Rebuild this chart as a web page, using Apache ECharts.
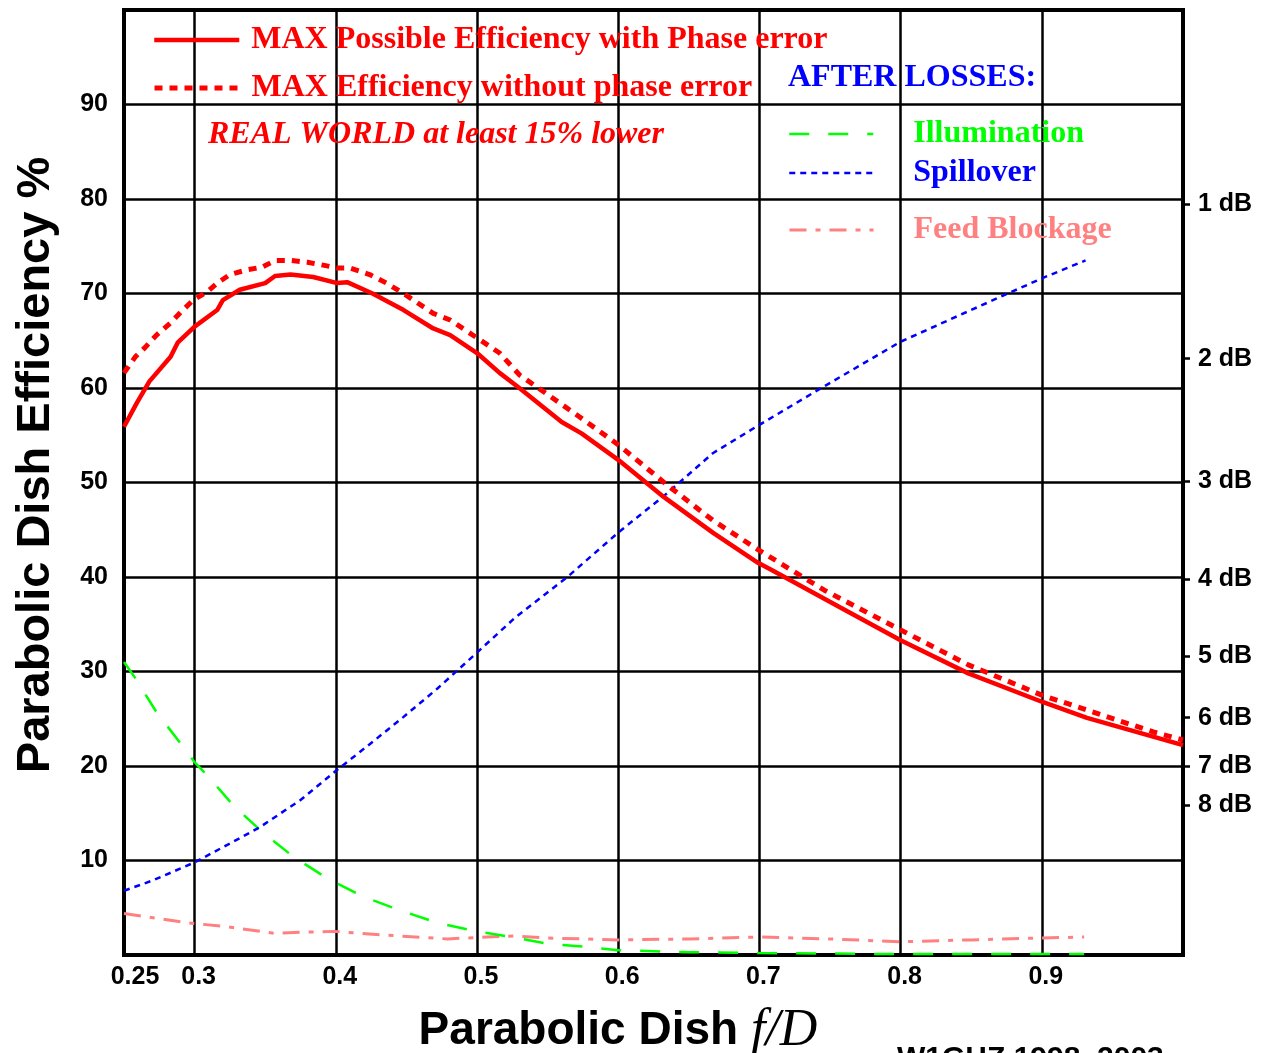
<!DOCTYPE html>
<html><head><meta charset="utf-8">
<script src="https://cdn.jsdelivr.net/npm/echarts@6/dist/echarts.min.js"></script>
<style>html,body{margin:0;padding:0;background:#fff}#c{width:1265px;height:1053px}</style>
</head><body><div id="c"></div>
<script>
// ---- data ----
const phaseErrFD  = [0.25,0.259,0.268,0.283,0.288,0.300,0.316,0.320,0.332,0.350,0.357,0.368,0.384,0.401,0.408,0.426,0.448,0.469,0.481,0.500,0.516,0.530,0.560,0.574,0.600,0.632,0.667,0.699,0.708,0.757,0.800,0.848,0.900,0.932,1.000];
const phaseErrEff = [55.9,58.4,60.7,63.3,64.8,66.5,68.25,69.3,70.4,71.1,71.85,72.0,71.75,71.1,71.2,70.0,68.25,66.3,65.6,63.7,61.6,60.0,56.4,55.2,52.4,48.5,44.7,41.5,40.8,36.8,33.3,29.8,26.8,25.1,22.2];

const noPhaseFD  = [0.25,0.258,0.265,0.273,0.283,0.290,0.299,0.309,0.316,0.325,0.337,0.348,0.357,0.368,0.380,0.391,0.401,0.410,0.424,0.436,0.450,0.469,0.481,0.500,0.516,0.530,0.573,0.600,0.635,0.667,0.699,0.746,0.800,0.848,0.900,0.979,1.000];
const noPhaseEff = [61.6,63.3,64.3,65.6,66.9,68.0,69.3,70.2,71.1,72.0,72.5,72.8,73.5,73.5,73.3,73.0,72.7,72.7,72.0,71.1,69.8,67.9,67.2,65.3,63.7,61.4,56.9,54.0,49.7,46.0,42.9,38.6,34.4,30.7,27.5,23.6,22.75];

const illumFD  = [0.25,0.258,0.273,0.290,0.300,0.309,0.327,0.348,0.370,0.394,0.419,0.446,0.472,0.500,0.528,0.550,0.578,0.600,0.650,0.700,0.750,0.800,0.850,0.930];
const illumEff = [31.0,29.3,25.7,22.4,20.4,19.0,15.9,13.0,10.4,8.1,6.2,4.7,3.4,2.5,1.8,1.2,0.85,0.5,0.3,0.2,0.15,0.1,0.1,0.1];

const spillFD  = [0.25,0.2705,0.300,0.325,0.346,0.375,0.401,0.424,0.448,0.472,0.500,0.527,0.564,0.600,0.635,0.667,0.700,0.745,0.800,0.873,0.900,0.931];
const spillEff = [6.8,7.9,9.8,11.8,13.5,16.4,19.6,22.3,25.2,28.2,32.0,35.7,40.0,44.7,48.9,53.1,56.1,60.1,64.9,69.8,71.6,73.5];

const blockFD  = [0.25,0.295,0.323,0.356,0.375,0.398,0.436,0.479,0.507,0.526,0.550,0.600,0.650,0.700,0.750,0.800,0.850,0.900,0.930];
const blockEff = [4.4,3.4,3.0,2.3,2.4,2.5,2.1,1.7,1.9,2.0,1.8,1.6,1.7,1.9,1.7,1.4,1.6,1.8,1.9];

const xLabelValues = [0.25,0.3,0.4,0.5,0.6,0.7,0.8,0.9];
const xGridValues  = [0.3,0.4,0.5,0.6,0.7,0.8,0.9];
const dbTicks = [1,2,3,4,5,6,7,8];

const names = {
  pe: 'MAX Possible Efficiency with Phase error',
  np: 'MAX Efficiency without phase error',
  il: 'Illumination',
  sp: 'Spillover',
  fb: 'Feed Blockage'
};
const pairs = (xs, ys) => xs.map((x, i) => [x, ys[i]]);
const dbToEff = db => 100 * Math.pow(10, -db / 10);

const SANS = 'Liberation Sans', SERIF = 'Liberation Serif';
const RED = '#ff0000', GREEN = '#00ff00', BLUE = '#0000ff', PINK = '#ff8080';

function legendAt(name, left, centerY, w, color, textPad) {
  return {
    data: [{ name: name, textStyle: { color: color } }],
    orient: 'vertical', left: left, top: centerY - 18, padding: 0,
    itemWidth: w, itemHeight: 14, selectedMode: false,
    itemStyle: { color: 'rgba(0,0,0,0)', borderWidth: 0, opacity: 0 },
    lineStyle: { width: 'inherit', type: 'inherit' },
    textStyle: { fontFamily: SERIF, fontWeight: 'bold', fontSize: 32, lineHeight: 36,
                 padding: [0, 0, 0, textPad] }
  };
}

const tickFont = { color: '#000', fontFamily: SANS, fontWeight: 'bold', fontSize: 25 };

const chart = echarts.init(document.getElementById('c'), null, { renderer: 'canvas' });
chart.setOption({
  animation: false,
  backgroundColor: '#fff',
  grid: { left: 124, right: 82, top: 10, bottom: 98, show: true, borderColor: '#000', borderWidth: 4,
          containLabel: false, outerBoundsMode: 'none' },
  title: [
    { text: 'REAL WORLD at least 15% lower', left: 208, top: 117, padding: 0,
      textStyle: { color: RED, fontFamily: SERIF, fontStyle: 'italic', fontWeight: 'bold', fontSize: 32, lineHeight: 36 } },
    { text: 'AFTER LOSSES:', left: 788, top: 60, padding: 0,
      textStyle: { color: BLUE, fontFamily: SERIF, fontWeight: 'bold', fontSize: 32, lineHeight: 36 } }
  ],
  legend: [
    legendAt(names.pe, 152, 40, 85, RED, 7),
    legendAt(names.np, 152, 88, 85, RED, 7),
    legendAt(names.il, 788, 134, 84, GREEN, 35),
    legendAt(names.sp, 788, 173, 84, BLUE, 35),
    legendAt(names.fb, 788, 230, 84, PINK, 35)
  ],
  xAxis: {
    type: 'value', min: 0.25, max: 1.0,
    axisLine: { show: false },
    axisTick: { show: false, customValues: xGridValues },
    axisLabel: {
      customValues: xLabelValues, margin: 10,
      formatter: v => {
        const s = String(+v.toFixed(2));
        return v < 0.26 ? '{f|' + s + '}' : '{n|' + s + '}';
      },
      rich: {
        f: Object.assign({ padding: [0, 0, 0, 22] }, tickFont),
        n: Object.assign({ padding: [0, 0, 0, 8] }, tickFont)
      }
    },
    splitLine: { show: true, lineStyle: { color: '#000', width: 2.5 } },
    name: '{a|Parabolic Dish }{b|f/D}',
    nameLocation: 'middle', nameGap: 48,
    nameTextStyle: {
      padding: [0, 71, 0, 0],
      rich: {
        a: { fontFamily: SANS, fontWeight: 'bold', fontSize: 46, color: '#000', lineHeight: 56 },
        b: { fontFamily: SERIF, fontStyle: 'italic', fontSize: 52, color: '#000', lineHeight: 56 }
      }
    }
  },
  yAxis: [
    {
      type: 'value', min: 0, max: 100, interval: 10, position: 'left',
      axisLine: { show: false }, axisTick: { show: false },
      axisLabel: Object.assign({ margin: 16,
                   formatter: v => (v <= 0 || v >= 100) ? '' : String(v) }, tickFont),
      splitLine: { show: true, lineStyle: { color: '#000', width: 2.5 } },
      name: 'Parabolic Dish Efficiency %', nameLocation: 'middle', nameGap: 64,
      nameTextStyle: { fontFamily: SANS, fontWeight: 'bold', fontSize: 47, color: '#000', padding: [0, 0, 0, 35] }
    },
    {
      type: 'value', min: 0, max: 100, position: 'right',
      axisLine: { show: false },
      axisTick: { show: true, inside: false, length: 7, customValues: dbTicks.map(dbToEff),
                  lineStyle: { color: '#000', width: 2.5 } },
      axisLabel: Object.assign({ customValues: dbTicks.map(dbToEff), margin: 15,
                   formatter: v => Math.round(-10 * Math.log10(v / 100)) + ' dB' }, tickFont),
      splitLine: { show: false }
    }
  ],
  series: [
    { name: names.pe, type: 'line', data: pairs(phaseErrFD, phaseErrEff), symbol: 'none', z: 6,
      lineStyle: { color: RED, width: 4.5, type: 'solid' }, itemStyle: { color: RED } },
    { name: names.np, type: 'line', data: pairs(noPhaseFD, noPhaseEff), symbol: 'none', z: 5,
      lineStyle: { color: RED, width: 5, type: [8, 7] }, itemStyle: { color: RED } },
    { name: names.il, type: 'line', data: pairs(illumFD, illumEff), symbol: 'none', z: 4,
      lineStyle: { color: GREEN, width: 2.5, type: [20, 19] }, itemStyle: { color: GREEN } },
    { name: names.sp, type: 'line', data: pairs(spillFD, spillEff), symbol: 'none', z: 4,
      lineStyle: { color: BLUE, width: 2.5, type: [6, 5] }, itemStyle: { color: BLUE } },
    { name: names.fb, type: 'line', data: pairs(blockFD, blockEff), symbol: 'none', z: 3,
      lineStyle: { color: PINK, width: 3, type: [17, 9, 5, 9] }, itemStyle: { color: PINK } }
  ],
  graphic: [
    { type: 'text', left: 897, top: 1044, silent: true,
      style: { text: 'W1GHZ 1998, 2003', font: 'bold 30px "Liberation Sans"', fill: '#000' } }
  ]
});
</script>
</body></html>
